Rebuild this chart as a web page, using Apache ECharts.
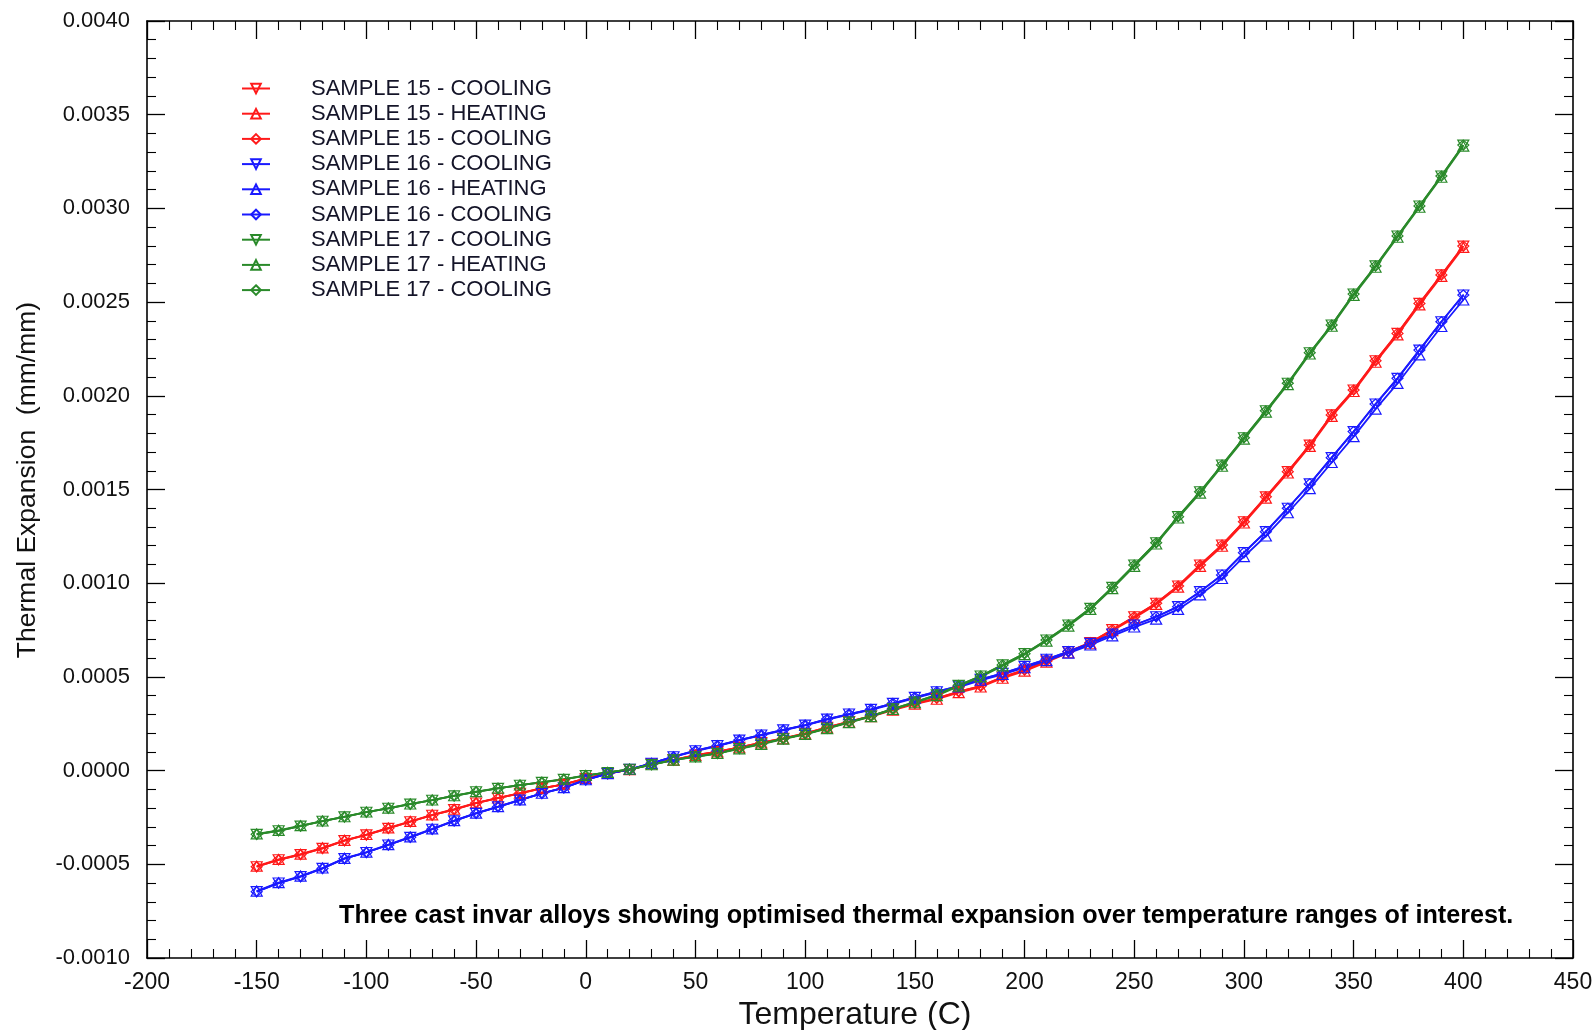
<!DOCTYPE html>
<html>
<head>
<meta charset="utf-8">
<title>Thermal Expansion of Cast Invar Alloys</title>
<script src="https://cdn.jsdelivr.net/npm/echarts@6/dist/echarts.min.js"></script>
<style>
  html, body { margin: 0; padding: 0; background: #ffffff; }
  #chart { width: 1593px; height: 1030px; }
</style>
</head>
<body>
<div id="chart"></div>
<script>
// Temperatures (C) at which each sample was measured
const temperatures = [
  -150, -140, -130, -120, -110, -100, -90, -80, -70, -60, -50, -40, -30, -20, -10,
  0, 10, 20, 30, 40, 50, 60, 70, 80, 90, 100, 110, 120, 130, 140, 150, 160, 170, 180, 190,
  200, 210, 220, 230, 240, 250, 260, 270, 280, 290, 300, 310, 320, 330, 340, 350, 360, 370, 380, 390, 400
];

// Sample 15 (mm/mm)
const s15Cooling = [
  -0.000513, -0.000476, -0.000448, -0.000415, -0.000374, -0.000343, -0.000308, -0.000273, -0.000238, -0.000208,
  -0.000173, -0.000147, -0.000121, -0.000095, -0.000074, -0.000043, -0.000016, 0.000005, 0.000036, 0.000057,
  0.000083, 0.000101, 0.000124, 0.000149, 0.000172, 0.000199, 0.000231, 0.000261, 0.000291, 0.000327,
  0.000359, 0.000386, 0.000421, 0.000451, 0.000499, 0.000537, 0.000585, 0.000635, 0.000683, 0.000752,
  0.000821, 0.000893, 0.000985, 0.001097, 0.001204, 0.001328, 0.001461, 0.001595, 0.001737, 0.001898,
  0.002031, 0.002187, 0.002333, 0.002493, 0.002645, 0.002799
];
const s15Heating = [
  -0.000510, -0.000474, -0.000446, -0.000412, -0.000372, -0.000341, -0.000306, -0.000271, -0.000236, -0.000206,
  -0.000172, -0.000146, -0.000120, -0.000094, -0.000073, -0.000042, -0.000015, 0.000005, 0.000035, 0.000056,
  0.000081, 0.000099, 0.000122, 0.000147, 0.000170, 0.000196, 0.000228, 0.000258, 0.000288, 0.000323,
  0.000355, 0.000381, 0.000416, 0.000446, 0.000493, 0.000531, 0.000579, 0.000629, 0.000677, 0.000746,
  0.000815, 0.000887, 0.000979, 0.001090, 0.001197, 0.001321, 0.001454, 0.001588, 0.001730, 0.001890,
  0.002023, 0.002179, 0.002325, 0.002485, 0.002637, 0.002792
];

// Sample 16 (mm/mm)
const s16Cooling = [
  -0.000646, -0.000600, -0.000566, -0.000522, -0.000470, -0.000437, -0.000397, -0.000356, -0.000313, -0.000268,
  -0.000228, -0.000193, -0.000157, -0.000122, -0.000092, -0.000050, -0.000016, 0.000007, 0.000039, 0.000074,
  0.000106, 0.000133, 0.000163, 0.000190, 0.000217, 0.000243, 0.000275, 0.000302, 0.000327, 0.000359,
  0.000391, 0.000421, 0.000451, 0.000487, 0.000519, 0.000556, 0.000594, 0.000635, 0.000679, 0.000729,
  0.000777, 0.000821, 0.000875, 0.000955, 0.001044, 0.001163, 0.001275, 0.001400, 0.001530, 0.001670,
  0.001809, 0.001956, 0.002093, 0.002244, 0.002395, 0.002538
];
const s16Heating = [
  -0.000643, -0.000598, -0.000563, -0.000520, -0.000468, -0.000435, -0.000395, -0.000354, -0.000311, -0.000267,
  -0.000227, -0.000192, -0.000156, -0.000121, -0.000091, -0.000049, -0.000016, 0.000007, 0.000038, 0.000073,
  0.000104, 0.000131, 0.000161, 0.000188, 0.000215, 0.000241, 0.000272, 0.000299, 0.000324, 0.000355,
  0.000387, 0.000417, 0.000446, 0.000482, 0.000513, 0.000549, 0.000587, 0.000627, 0.000670, 0.000719,
  0.000766, 0.000808, 0.000860, 0.000938, 0.001025, 0.001142, 0.001252, 0.001376, 0.001505, 0.001644,
  0.001782, 0.001929, 0.002066, 0.002218, 0.002370, 0.002511
];

// Sample 17 (mm/mm)
const s17Cooling = [
  -0.000340, -0.000321, -0.000296, -0.000270, -0.000247, -0.000222, -0.000201, -0.000179, -0.000158, -0.000135,
  -0.000113, -0.000095, -0.000078, -0.000063, -0.000047, -0.000027, -0.000010, 0.000007, 0.000032, 0.000057,
  0.000074, 0.000092, 0.000118, 0.000142, 0.000170, 0.000195, 0.000226, 0.000259, 0.000291, 0.000330,
  0.000366, 0.000404, 0.000455, 0.000505, 0.000564, 0.000624, 0.000697, 0.000777, 0.000866, 0.000978,
  0.001097, 0.001216, 0.001355, 0.001488, 0.001631, 0.001776, 0.001920, 0.002067, 0.002230, 0.002378,
  0.002543, 0.002693, 0.002853, 0.003013, 0.003173, 0.003338
];
const s17Heating = [
  -0.000338, -0.000319, -0.000294, -0.000269, -0.000246, -0.000221, -0.000200, -0.000178, -0.000157, -0.000134,
  -0.000112, -0.000094, -0.000077, -0.000062, -0.000046, -0.000026, -0.000010, 0.000007, 0.000031, 0.000056,
  0.000073, 0.000091, 0.000116, 0.000140, 0.000168, 0.000193, 0.000224, 0.000256, 0.000288, 0.000327,
  0.000362, 0.000400, 0.000451, 0.000500, 0.000559, 0.000619, 0.000691, 0.000771, 0.000860, 0.000971,
  0.001090, 0.001209, 0.001348, 0.001481, 0.001624, 0.001769, 0.001913, 0.002060, 0.002223, 0.002371,
  0.002536, 0.002686, 0.002846, 0.003006, 0.003166, 0.003332
];

const seriesNames = [
  'SAMPLE 15 - COOLING', 'SAMPLE 15 - HEATING', 'SAMPLE 15 - COOLING ',
  'SAMPLE 16 - COOLING', 'SAMPLE 16 - HEATING', 'SAMPLE 16 - COOLING ',
  'SAMPLE 17 - COOLING', 'SAMPLE 17 - HEATING', 'SAMPLE 17 - COOLING  '
];
const seriesValues = [
  s15Cooling, s15Heating, s15Cooling,
  s16Cooling, s16Heating, s16Cooling,
  s17Cooling, s17Heating, s17Cooling
];
const seriesColors = ['#ff1a1a', '#ff1a1a', '#ff1a1a', '#1a1aff', '#1a1aff', '#1a1aff', '#2a8a2a', '#2a8a2a', '#2a8a2a'];
// marker per run: down triangle, up triangle, diamond
const markerShapes = ['triangle', 'triangle', 'diamond', 'triangle', 'triangle', 'diamond', 'triangle', 'triangle', 'diamond'];
const markerRotate = [180, 0, 0, 180, 0, 0, 180, 0, 0];

const FONT = '"Liberation Sans", Arial, sans-serif';

const series = seriesNames.map((name, i) => ({
  name: name,
  type: 'line',
  data: temperatures.map((t, k) => [t, seriesValues[i][k]]),
  symbol: markerShapes[i],
  symbolRotate: markerRotate[i],
  symbolSize: [11, 10],
  showAllSymbol: true,
  lineStyle: { color: seriesColors[i], width: 1.8 },
  itemStyle: { color: 'rgba(255,255,255,0)', borderColor: seriesColors[i], borderWidth: 1.2 },
  emphasis: { disabled: true },
  animation: false,
  z: 2
}));

const tickCommon = {
  axisLine: { show: true, onZero: false, lineStyle: { color: '#000', width: 1.6 } },
  axisTick: { show: true, inside: true, length: 18, lineStyle: { color: '#000', width: 1.3 } },
  minorTick: { show: true, splitNumber: 5, length: 9, lineStyle: { color: '#000', width: 1.1 } },
  splitLine: { show: false },
  minorSplitLine: { show: false }
};

const chart = echarts.init(document.getElementById('chart'), null, { renderer: 'canvas' });
chart.setOption({
  backgroundColor: '#ffffff',
  animation: false,
  grid: { left: 147, right: 20, top: 21, bottom: 72, containLabel: false, outerBoundsMode: 'none' },
  legend: {
    orient: 'vertical',
    left: 236,
    top: 72,
    itemWidth: 28,
    itemHeight: 12,
    itemGap: 2.2,
    data: seriesNames,
    textStyle: {
      fontFamily: FONT,
      fontSize: 22,
      color: '#141428',
      lineHeight: 23,
      padding: [0, 0, 0, 36]
    },
    formatter: n => n.trim(),
    selectedMode: false
  },
  xAxis: [
    Object.assign({
      type: 'value', min: -200, max: 450, interval: 50, position: 'bottom',
      name: 'Temperature (C)', nameLocation: 'middle', nameGap: 38,
      nameTextStyle: { fontFamily: FONT, fontSize: 32, color: '#111', padding: [0, 10, 0, 0] },
      axisLabel: { fontFamily: FONT, fontSize: 23, color: '#111', margin: 13 }
    }, tickCommon),
    Object.assign({
      type: 'value', min: -200, max: 450, interval: 50, position: 'top',
      axisLabel: { show: false }
    }, tickCommon)
  ],
  yAxis: [
    Object.assign({
      type: 'value', min: -0.001, max: 0.004, interval: 0.0005, position: 'left',
      axisLabel: { fontFamily: FONT, fontSize: 22, color: '#111', margin: 17, formatter: v => v.toFixed(4) }
    }, tickCommon),
    Object.assign({
      type: 'value', min: -0.001, max: 0.004, interval: 0.0005, position: 'right',
      axisLabel: { show: false }
    }, tickCommon)
  ],
  graphic: [{
    type: 'text',
    x: 28,
    y: 480,
    rotation: Math.PI / 2,
    style: {
      text: 'Thermal Expansion  (mm/mm)',
      font: '26.5px ' + FONT,
      fill: '#111',
      align: 'center',
      verticalAlign: 'middle'
    }
  }, {
    type: 'text',
    left: 339,
    top: 904,
    style: {
      text: 'Three cast invar alloys showing optimised thermal expansion over temperature ranges of interest.',
      font: 'bold 25.2px ' + FONT,
      fill: '#000'
    }
  }],
  series: series
});
</script>
</body>
</html>
